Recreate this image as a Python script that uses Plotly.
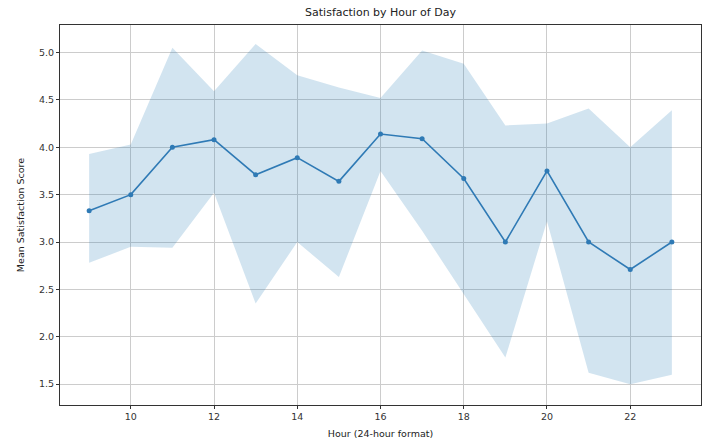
import plotly.graph_objects as go

# Mean satisfaction per hour with its confidence band
hours = [9, 10, 11, 12, 13, 14, 15, 16, 17, 18, 19, 20, 21, 22, 23]
mean_score = [3.33, 3.50, 4.00, 4.08, 3.71, 3.89, 3.64, 4.14, 4.09, 3.67, 3.00, 3.75, 3.00, 2.71, 3.00]
ci_upper = [3.93, 4.03, 5.05, 4.59, 5.09, 4.76, 4.63, 4.52, 5.02, 4.88, 4.23, 4.25, 4.41, 4.00, 4.39]
ci_lower = [2.78, 2.95, 2.94, 3.52, 2.35, 3.00, 2.63, 3.75, 3.12, 2.45, 1.78, 3.22, 1.62, 1.50, 1.60]

x_ticks = [10, 12, 14, 16, 18, 20, 22]
y_ticks = [1.5, 2.0, 2.5, 3.0, 3.5, 4.0, 4.5, 5.0]

line_color = "#2f7ab5"
band_color = "rgba(31,119,180,0.2)"

fig = go.Figure()
fig.add_trace(go.Scatter(
    x=hours, y=ci_upper, mode="lines", line=dict(width=0),
    hoverinfo="skip", showlegend=False,
))
fig.add_trace(go.Scatter(
    x=hours, y=ci_lower, mode="lines", line=dict(width=0),
    fill="tonexty", fillcolor=band_color,
    hoverinfo="skip", showlegend=False,
))
fig.add_trace(go.Scatter(
    x=hours, y=mean_score, mode="lines+markers",
    line=dict(color=line_color, width=1.6),
    marker=dict(color=line_color, size=5),
    showlegend=False,
))

axis_common = dict(
    showline=True, linecolor="#333333", linewidth=1, mirror=True,
    showgrid=True, gridcolor="#cccccc", gridwidth=1,
    ticks="outside", ticklen=3, tickcolor="#333333",
    tickfont=dict(family="DejaVu Sans", size=9.5, color="#333333"),
    zeroline=False,
)

fig.update_layout(
    width=711, height=446,
    margin=dict(l=60, r=9, t=25, b=36),
    paper_bgcolor="white", plot_bgcolor="white",
    font=dict(family="DejaVu Sans", color="#222222"),
    title=dict(
        text="Satisfaction by Hour of Day",
        x=0.5, xref="paper", xanchor="center",
        y=1, yref="container", yanchor="top", pad=dict(t=8),
        font=dict(size=11, family="DejaVu Sans", color="#222222"),
    ),
    xaxis=dict(
        range=[8.3, 23.7], tickvals=x_ticks,
        title=dict(text="Hour (24-hour format)", font=dict(size=9.5), standoff=8),
        **axis_common,
    ),
    yaxis=dict(
        range=[1.28, 5.29], tickvals=y_ticks, tickformat=".1f",
        title=dict(text="Mean Satisfaction Score", font=dict(size=9.5), standoff=12),
        **axis_common,
    ),
)

fig.write_html("out.html")
